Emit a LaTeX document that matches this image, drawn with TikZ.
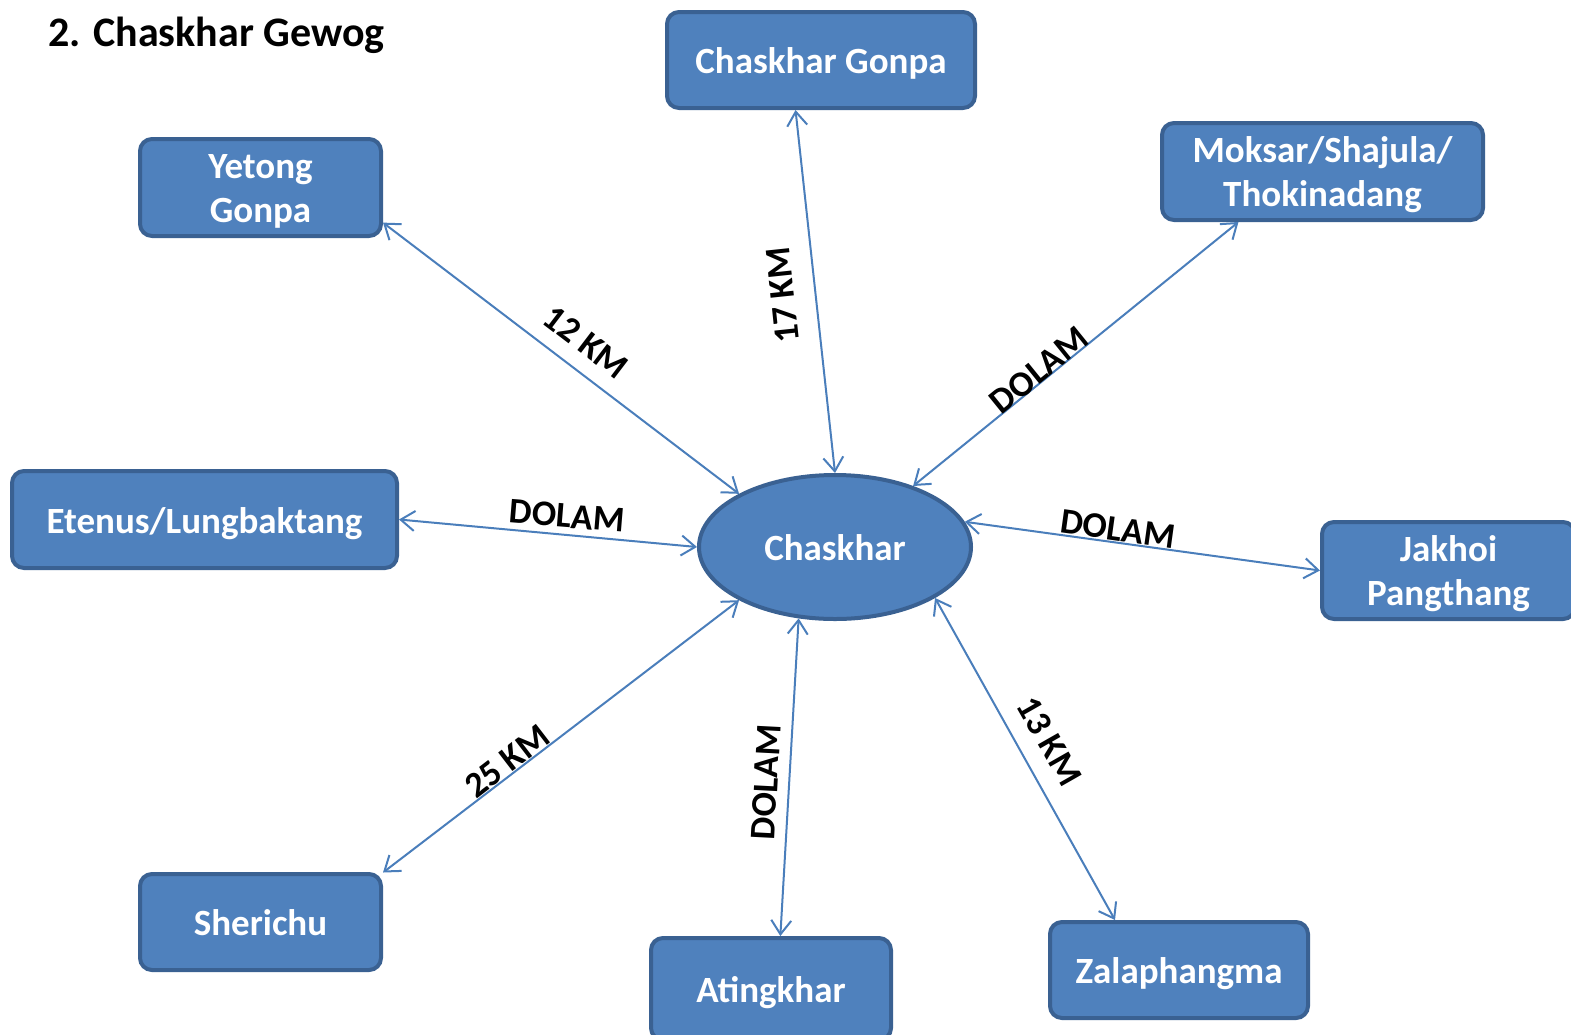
\documentclass[tikz,border=0pt]{standalone}
\usepackage{fontspec}
\setmainfont{Carlito}
\usetikzlibrary{arrows.meta,shapes.geometric}
\definecolor{boxfill}{HTML}{4F81BD}
\definecolor{boxline}{HTML}{3A6192}
\definecolor{arrowcol}{HTML}{4A7EBB}
\begin{document}
\begin{tikzpicture}[x=1pt,y=1pt,
  place/.style={draw=boxline, line width=4pt, fill=boxfill, rounded corners=12pt,
    text=white, font=\fontsize{37}{44}\selectfont\bfseries, align=center, inner sep=0pt,
    text height=27pt, text depth=0pt},
  twoline/.style={text height=70pt, text depth=0pt},
  hub/.style={ellipse, draw=boxline, line width=4pt, fill=boxfill, inner sep=0pt,
    text=white, font=\fontsize{37}{44}\selectfont\bfseries, text height=27pt, text depth=0pt},
  link/.style={draw=arrowcol, line width=2pt, {Straight Barb[length=14pt,width=20pt]}-{Straight Barb[length=14pt,width=20pt]}},
  dist/.style={font=\fontsize{36}{40}\selectfont\bfseries, text=black, inner sep=0pt}]
\useasboundingbox (0,0) rectangle (1571,-1034);
\node[anchor=base west, font=\fontsize{42}{48}\selectfont\bfseries, inner sep=0pt] (title) at (48,-46) {2. Chaskhar Gewog};

\node[place, minimum width=308, minimum height=96] (gonpa) at (821,-60) {Chaskhar Gonpa};
\node[place, twoline, minimum width=241, minimum height=97] (yetong) at (260.5,-187.5) {Yetong\\Gonpa};
\node[place, twoline, minimum width=321, minimum height=97] (moksar) at (1322.5,-171.5) {Moksar/Shajula/\\Thokinadang};
\node[place, minimum width=385, minimum height=97] (etenus) at (204.5,-519.5) {Etenus/Lungbaktang};
\node[hub, minimum width=272, minimum height=144] (chaskhar) at (835,-547) {Chaskhar};
\node[place, twoline, minimum width=253, minimum height=97] (jakhoi) at (1448.5,-570.5) {Jakhoi\\Pangthang};
\node[place, minimum width=241, minimum height=96] (sherichu) at (260.5,-922) {Sherichu};
\node[place, minimum width=240, minimum height=102] (atingkhar) at (771,-989) {Atingkhar};
\node[place, minimum width=258, minimum height=96] (zalaph) at (1179,-970) {Zalaphangma};

\draw[link] (yetong.-16) -- (chaskhar.151);
\draw[link] (gonpa.-117) -- (chaskhar.90);
\draw[link] (moksar.-149) -- (chaskhar.38);
\draw[link] (etenus.east) -- (chaskhar.west);
\draw[link] (chaskhar.11) -- (jakhoi.west);
\draw[link] (sherichu.22) -- (chaskhar.209);
\draw[link] (chaskhar.-117) -- (atingkhar.80);
\draw[link] (chaskhar.-27.5) -- (zalaph.142);

\node[dist, rotate=-37.3] (l1) at (586,-342) {12 KM};
\node[dist, rotate=96] (l2) at (783,-295) {17 KM};
\node[dist, rotate=39] (l3) at (1039,-370) {DOLAM};
\node[dist, rotate=-4.7] (l4) at (567,-516) {DOLAM};
\node[dist, rotate=-7.9] (l5) at (1118,-529) {DOLAM};
\node[dist, rotate=37.5] (l6) at (507,-761) {25 KM};
\node[dist, rotate=87] (l7) at (766,-782) {DOLAM};
\node[dist, rotate=-60.3] (l8) at (1049,-741) {13 KM};
\end{tikzpicture}
\end{document}
